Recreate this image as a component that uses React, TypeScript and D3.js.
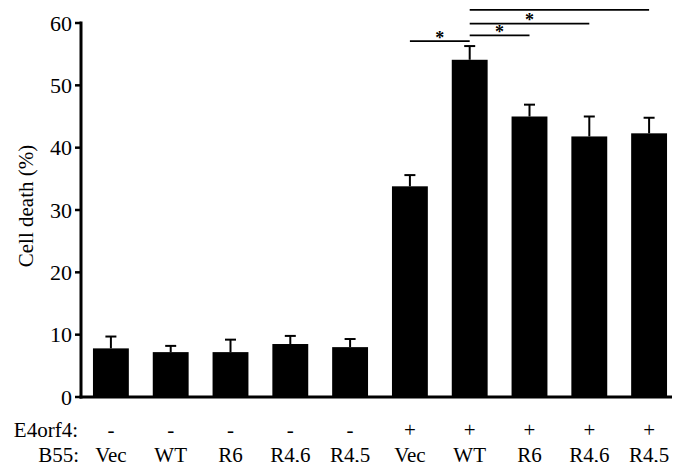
import React from "react";
import * as d3 from "d3";

const categories = ["Vec", "WT", "R6", "R4,6", "R4,5", "Vec", "WT", "R6", "R4,6", "R4,5"];
const e4orf4 = ["-", "-", "-", "-", "-", "+", "+", "+", "+", "+"];
const values = [7.8, 7.2, 7.2, 8.5, 8.0, 33.8, 54.1, 45.0, 41.8, 42.3];
const errors = [1.9, 1.0, 2.0, 1.3, 1.3, 1.8, 2.2, 1.9, 3.2, 2.5];
const yTicks = [0, 10, 20, 30, 40, 50, 60];
const sigPairs: [number, number, number][] = [
  [5, 6, 57.1],
  [6, 7, 58.0],
  [6, 8, 59.9],
  [6, 9, 62.1],
];

const W = 680;
const H = 470;

export default function App() {
  const ids = categories.map((_, i) => String(i));
  const x = d3.scaleBand<string>().domain(ids).range([81, 679]).paddingInner(0.4).paddingOuter(0.2);
  const y = d3.scaleLinear().domain([0, 60]).range([397, 23]);
  const bw = x.bandwidth();
  const cx = (i: number) => (x(String(i)) as number) + bw / 2;
  const f = (size: number) => ({ fontFamily: `"Liberation Serif", monospace`, fontSize: size });

  return (
    <svg width={W} height={H} style={{ display: "block", margin: "-8px" }}>
      {values.map((v, i) => (
        <rect key={"b" + i} x={x(String(i))} y={y(v)} width={bw} height={y(0) - y(v)} fill="#000" />
      ))}
      {values.map((v, i) => (
        <g key={"e" + i} stroke="#000" strokeWidth={2}>
          <line x1={cx(i)} x2={cx(i)} y1={y(v)} y2={y(v + errors[i])} />
          <line x1={cx(i) - 5.5} x2={cx(i) + 5.5} y1={y(v + errors[i])} y2={y(v + errors[i])} />
        </g>
      ))}
      <line x1={81} x2={81} y1={y(60) - 1.5} y2={y(0) + 1.5} stroke="#000" strokeWidth={3} />
      <line x1={79.5} x2={673} y1={y(0)} y2={y(0)} stroke="#000" strokeWidth={3} />
      {yTicks.map((t) => (
        <g key={"t" + t}>
          <line x1={75} x2={81} y1={y(t)} y2={y(t)} stroke="#000" strokeWidth={2.5} />
          <text x={72} y={y(t) + 7.5} textAnchor="end" style={f(22)}>
            {t}
          </text>
        </g>
      ))}
      <text transform={`translate(33,206) rotate(-90)`} textAnchor="middle" style={f(21)}>
        Cell death (%)
      </text>
      {sigPairs.map(([a, b, lv], k) => (
        <g key={"s" + k}>
          <line x1={cx(a)} x2={cx(b)} y1={y(lv)} y2={y(lv)} stroke="#000" strokeWidth={1.8} />
          <text x={(cx(a) + cx(b)) / 2} y={y(lv) + 2.5} textAnchor="middle" style={{ ...f(18), fontWeight: "bold" }}>
            *
          </text>
        </g>
      ))}
      <text x={78} y={437} textAnchor="end" style={f(21)}>
        E4orf4:
      </text>
      <text x={79} y={462} textAnchor="end" style={f(21)}>
        B55:
      </text>
      {e4orf4.map((s, i) => (
        <text key={"p" + i} x={cx(i)} y={437} textAnchor="middle" style={f(21)}>
          {s}
        </text>
      ))}
      {categories.map((c, i) => (
        <text key={"c" + i} x={cx(i)} y={462} textAnchor="middle" style={f(21)}>
          {c}
        </text>
      ))}
    </svg>
  );
}
